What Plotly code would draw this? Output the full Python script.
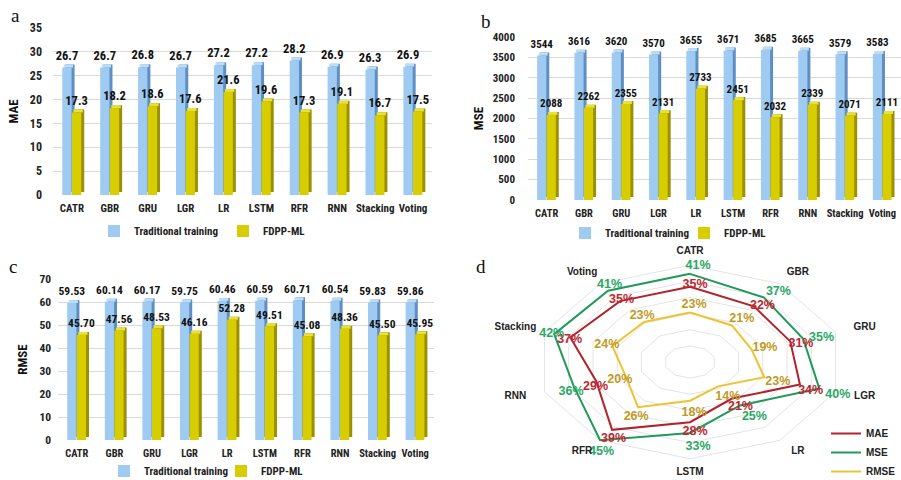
import numpy as np
import plotly.graph_objects as go

# ---------------- data ----------------
models = ["CATR", "GBR", "GRU", "LGR", "LR", "LSTM", "RFR", "RNN", "Stacking", "Voting"]
series_names = ["Traditional training", "FDPP-ML"]

mae_trad = [26.7, 26.7, 26.8, 26.7, 27.2, 27.2, 28.2, 26.9, 26.3, 26.9]
mae_fdpp = [17.3, 18.2, 18.6, 17.6, 21.6, 19.6, 17.3, 19.1, 16.7, 17.5]
mse_trad = [3544, 3616, 3620, 3570, 3655, 3671, 3685, 3665, 3579, 3583]
mse_fdpp = [2088, 2262, 2355, 2131, 2733, 2451, 2032, 2339, 2071, 2111]
rmse_trad = [59.53, 60.14, 60.17, 59.75, 60.46, 60.59, 60.71, 60.54, 59.83, 59.86]
rmse_fdpp = [45.70, 47.56, 48.53, 46.16, 52.28, 49.51, 45.08, 48.36, 45.50, 45.95]

mae_ticks = [0, 5, 10, 15, 20, 25, 30, 35]
mse_ticks = [0, 500, 1000, 1500, 2000, 2500, 3000, 3500, 4000]
rmse_ticks = [0, 10, 20, 30, 40, 50, 60, 70]

# improvement (%) for the radar chart
radar_names = ["MAE", "MSE", "RMSE"]
mae_impr = [35, 32, 31, 34, 21, 28, 39, 29, 37, 35]
mse_impr = [41, 37, 35, 40, 25, 33, 45, 36, 42, 41]
rmse_impr = [23, 21, 19, 23, 14, 18, 26, 20, 24, 23]
radar_rings = [7.5, 15, 22.5, 30, 37.5, 45]

# ---------------- style ----------------
W, H = 901, 480
NARROW = "Liberation Sans Narrow, Arial Narrow, Roboto Condensed, Liberation Sans, Arial, sans-serif"
SANS = "Liberation Sans, Arial, sans-serif"
SERIF = "Liberation Serif, Times New Roman, serif"

blue_front, blue_side, blue_top = "#9FCBF2", "#5F8FC2", "#BCDDF8"
yel_front, yel_side, yel_top = "#D8CD00", "#9A9000", "#E9E03A"
grid_col = "#D9D9D9"

fig = go.Figure()
idx = np.arange(len(models))


def fx(px):
    return px / W


def fy(py):
    return 1 - py / H


def bar_panel(k, trad, fdpp, fmt, xpx, ypx, ticks, ytitle,
              legend_y_px, legend_x_px, entry_w, lab_size, tick_size, cat_size, ystand, title_stand):
    sfx = "" if k == 1 else str(k)
    xa, ya = "x" + sfx, "y" + sfx
    yr = [ticks[0], ticks[-1]]
    px_per_y = (ypx[1] - ypx[0]) / (yr[1] - yr[0])
    px_per_cat = (xpx[1] - xpx[0]) / len(models)
    dy = 3.0 / px_per_y
    dx = 3.0 / px_per_cat
    w = 0.245
    centers = [-0.255 + w / 2, 0.0 + w / 2]
    cols = [(blue_front, blue_side, blue_top), (yel_front, yel_side, yel_top)]
    leg = "legend" if k == 1 else "legend" + str(k)
    for s, vals in enumerate([trad, fdpp]):
        fc, sc, tc = cols[s]
        xc = idx + centers[s]
        # side face
        fig.add_trace(go.Bar(x=xc + dx, y=vals, base=dy, width=w,
                             marker=dict(color=sc, line_width=0), xaxis=xa, yaxis=ya,
                             showlegend=False, hoverinfo="skip"))
        # top face
        fig.add_trace(go.Bar(x=xc + dx / 2, y=np.full(len(vals), dy), base=vals, width=w,
                             marker=dict(color=tc, line_width=0), xaxis=xa, yaxis=ya,
                             showlegend=False, hoverinfo="skip"))
        # front face
        fig.add_trace(go.Bar(x=xc, y=vals, width=w, name=series_names[s],
                             marker=dict(color=fc, line_width=0), xaxis=xa, yaxis=ya,
                             legend=leg, showlegend=True))
    # value labels
    for s, vals in enumerate([trad, fdpp]):
        fig.add_trace(go.Scatter(x=idx + centers[s], y=vals, mode="markers+text",
                                 marker=dict(size=6, opacity=0),
                                 text=[fmt.format(v) for v in vals], textposition="top center",
                                 textfont=dict(family=NARROW, size=lab_size, color="#111111", weight="bold"),
                                 cliponaxis=False, xaxis=xa, yaxis=ya, showlegend=False, hoverinfo="skip"))
    fig.update_layout(**{
        "xaxis" + sfx: dict(domain=[fx(xpx[0]), fx(xpx[1])], anchor=ya, range=[-0.5, 9.5],
                            tickvals=idx, ticktext=models,
                            showgrid=False, zeroline=False, showline=False, ticks="",
                            tickfont=dict(family=NARROW, size=cat_size, color="#222222", weight="bold"),
                            ticklabelstandoff=5),
        "yaxis" + sfx: dict(domain=[fy(ypx[1]), fy(ypx[0])], anchor=xa, range=yr,
                            tickvals=ticks, showgrid=True, gridcolor=grid_col, gridwidth=1,
                            zeroline=False, showline=False, ticks="",
                            tickfont=dict(family=NARROW, size=tick_size, color="#222222", weight="bold"),
                            ticklabelstandoff=ystand,
                            title=dict(text=ytitle, standoff=title_stand,
                                       font=dict(family=NARROW, size=13, color="#111111", weight="bold"))),
        leg: dict(orientation="h", x=fx(legend_x_px), y=fy(legend_y_px), xanchor="left", yanchor="middle",
                  bgcolor="rgba(0,0,0,0)", entrywidth=entry_w, entrywidthmode="pixels",
                  itemwidth=30, tracegroupgap=0,
                  font=dict(family=NARROW, size=11, color="#222222", weight="bold")),
    })


# panel a (x px range, y px [top, bottom])
bar_panel(1, mae_trad, mae_fdpp, "{:.1f}", (53, 432), (28, 195), mae_ticks, "MAE",
          231, 94, 84, 12.5, 12, 11, 10, 8)
# panel b
bar_panel(2, mse_trad, mse_fdpp, "{:.0f}", (528, 901), (37, 200), mse_ticks, "MSE",
          233, 565, 74, 11, 11, 10.5, 12, 6)
# panel c
bar_panel(3, rmse_trad, rmse_fdpp, "{:.2f}", (58, 434), (279, 440), rmse_ticks, "RMSE",
          471, 104, 72, 11.5, 11.5, 10.5, 6, 8)

# ---------------- radar (panel d) ----------------
# drawing scale: 3.4 px per unit horizontally, 2.15 px per unit vertically, centre (690, 362)
cx, cy, sx, sy, half = 690, 362, 3.4, 2.15, 54
n = len(models)
theta = np.arange(n) * 2 * np.pi / n


def closed(a):
    a = np.asarray(a, dtype=float)
    return np.append(a, a[0])


th_c = closed(theta)
ring_x, ring_y = [], []
for r in radar_rings:
    ring_x += list(r * np.sin(th_c)) + [None]
    ring_y += list(r * np.cos(th_c)) + [None]
fig.add_trace(go.Scatter(x=ring_x, y=ring_y, mode="lines", line=dict(color="#E4E4E4", width=1),
                         xaxis="x4", yaxis="y4", showlegend=False, hoverinfo="skip"))

line_cols = ["#B3222B", "#1F9A58", "#ECC430"]
text_cols = ["#BE2630", "#2BA864", "#BF9A26"]
# label placement (pixels): outward distance and (right, down) nudge per series
label_out = [6, 11, 10]
label_nudge = [(5, 4), (8, 3), (4, 2)]
for vals, name, lc in zip([mae_impr, mse_impr, rmse_impr], radar_names, line_cols):
    v = np.asarray(vals, dtype=float)
    fig.add_trace(go.Scatter(x=closed(v) * np.sin(th_c), y=closed(v) * np.cos(th_c), mode="lines",
                             name=name, line=dict(color=lc, width=2), xaxis="x4", yaxis="y4",
                             legend="legend4"))
for vals, tc, m, (bx, by) in zip([mae_impr, mse_impr, rmse_impr], text_cols, label_out, label_nudge):
    v = np.asarray(vals, dtype=float)
    lx = v * np.sin(theta) + (m * np.sin(theta) + bx) / sx
    ly = v * np.cos(theta) + (m * np.cos(theta) - by) / sy
    fig.add_trace(go.Scatter(x=lx, y=ly, mode="text",
                             text=[f"{k}%" for k in vals], textposition="middle center",
                             textfont=dict(family=SANS, size=12.5, color=tc, weight="bold"),
                             cliponaxis=False, xaxis="x4", yaxis="y4", showlegend=False, hoverinfo="skip"))
lab_rx, lab_ry = 54, 51.5
fig.add_trace(go.Scatter(x=lab_rx * np.sin(theta), y=lab_ry * np.cos(theta), mode="text", text=models,
                         textposition="middle center", cliponaxis=False,
                         textfont=dict(family=SANS, size=10, color="#222222", weight="bold"),
                         xaxis="x4", yaxis="y4", showlegend=False, hoverinfo="skip"))

fig.update_layout(
    xaxis4=dict(domain=[fx(cx - half * sx), fx(cx + half * sx)], anchor="y4", range=[-half, half], visible=False),
    yaxis4=dict(domain=[fy(cy + half * sy), fy(cy - half * sy)], anchor="x4", range=[-half, half], visible=False),
    legend4=dict(orientation="v", x=fx(826), y=fy(419), xanchor="left", yanchor="top",
                 bgcolor="rgba(0,0,0,0)", itemwidth=30, tracegroupgap=0,
                 font=dict(family=SANS, size=10, color="#222222", weight="bold")),
)

# panel letters
for letter, px, py in [("a", 15, 16), ("b", 486, 22), ("c", 13, 266), ("d", 481, 266)]:
    fig.add_annotation(text=letter, x=fx(px), y=fy(py), xref="paper", yref="paper",
                       showarrow=False, xanchor="center", yanchor="middle",
                       font=dict(family=SERIF, size=19, color="#111111"))

fig.update_layout(width=W, height=H, margin=dict(l=0, r=0, t=0, b=0, autoexpand=False),
                  barmode="overlay", paper_bgcolor="white", plot_bgcolor="white", hovermode=False)

fig.write_html("out.html", config={"displayModeBar": False},
               post_script="document.body.style.margin='0';")
